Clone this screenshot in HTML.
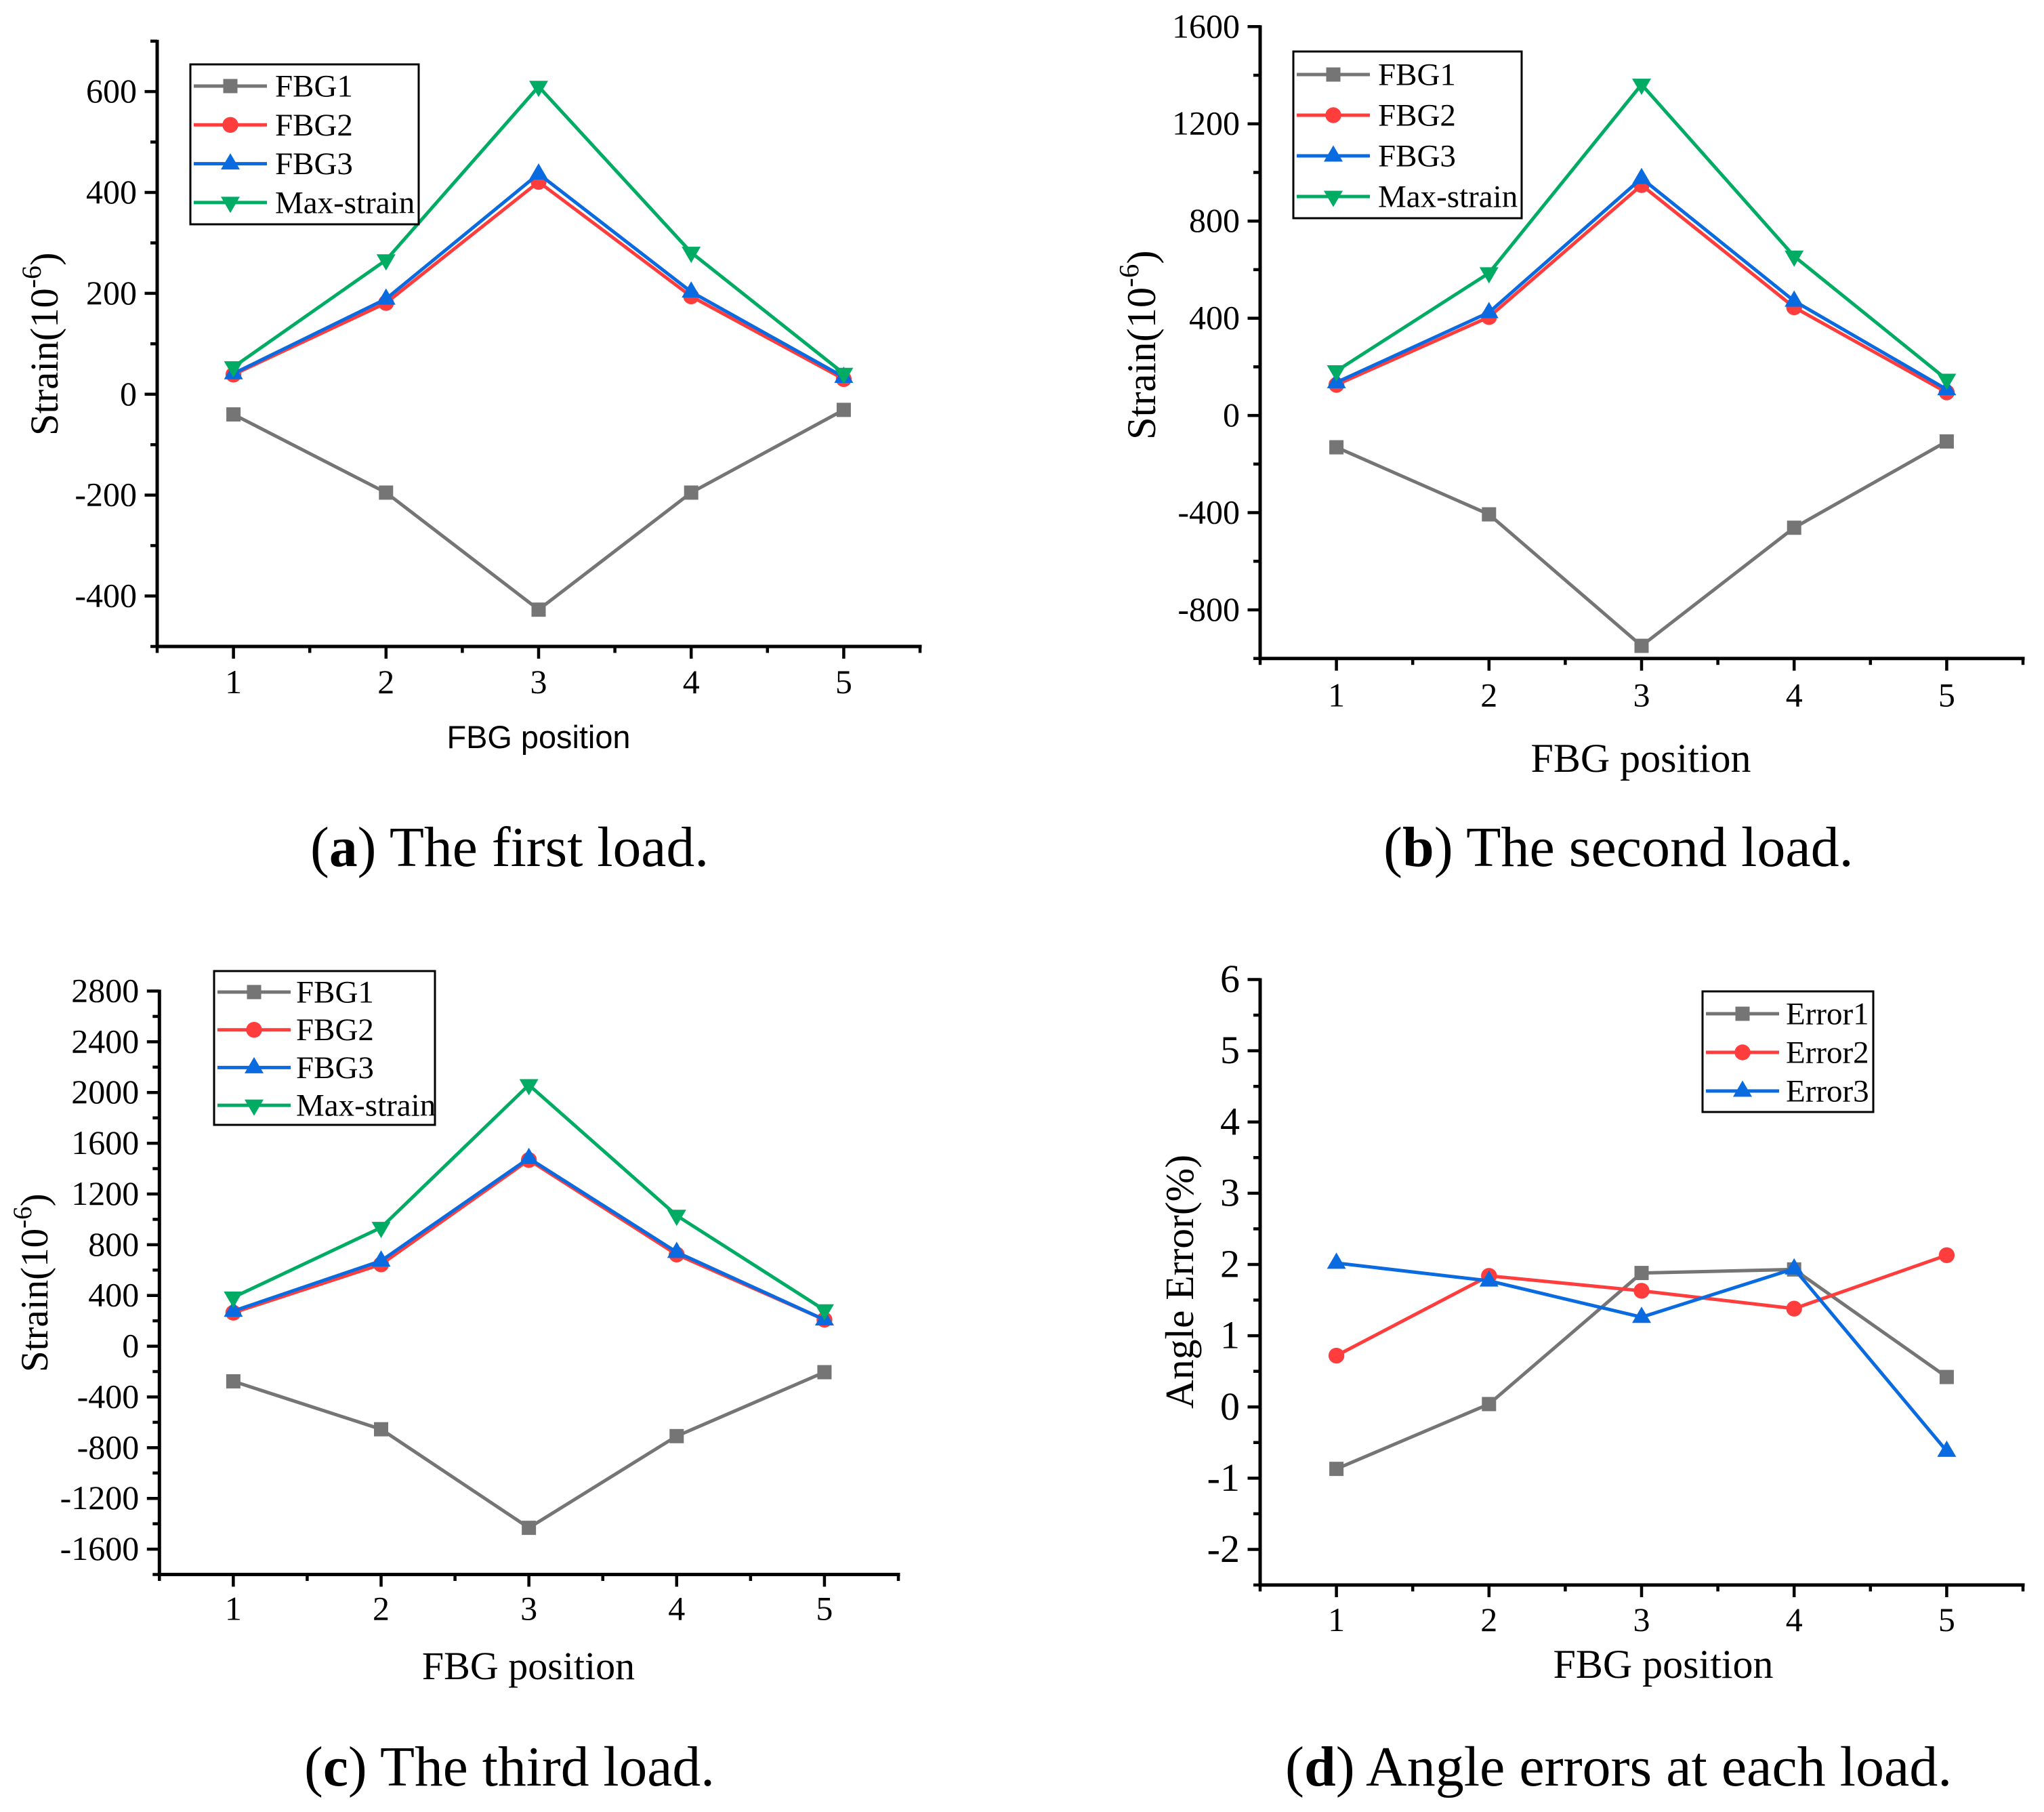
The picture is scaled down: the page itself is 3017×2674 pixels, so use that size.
<!DOCTYPE html>
<html>
<head>
<meta charset="utf-8">
<title>FBG strain charts</title>
<style>
html,body{margin:0;padding:0;background:#fff;}
svg{display:block;}
text{font-family:"Liberation Serif",serif;fill:#000;}
</style>
</head>
<body>
<svg id="figure" xmlns="http://www.w3.org/2000/svg" width="3017" height="2674" viewBox="0 0 3017 2674">
<rect x="0" y="0" width="3017" height="2674" fill="#fff"/>
<g id="titles">
<text x="795" y="1104" font-size="46.9" text-anchor="middle" style="font-family:'Liberation Sans',sans-serif">FBG position</text>
<text x="2422" y="1139" font-size="60" text-anchor="middle">FBG position</text>
<text x="780" y="2478" font-size="58" text-anchor="middle">FBG position</text>
<text x="2455" y="2476" font-size="60" text-anchor="middle">FBG position</text>
<text transform="translate(85,643) rotate(-90)" font-size="58.5">Strain(10<tspan font-size="40" dy="-25">-6</tspan><tspan dy="25">)</tspan></text>
<text transform="translate(1705,649) rotate(-90)" font-size="60.5">Strain(10<tspan font-size="41" dy="-25">-6</tspan><tspan dy="25">)</tspan></text>
<text transform="translate(70,2025) rotate(-90)" font-size="57">Strain(10<tspan font-size="39" dy="-24">-6</tspan><tspan dy="24">)</tspan></text>
<text transform="translate(1761,2079) rotate(-90)" font-size="59.5">Angle Error(%)</text>
<text x="458" y="1278" font-size="83.6">(<tspan font-weight="bold">a</tspan>) The first load.</text>
<text x="2042" y="1278" font-size="84">(<tspan font-weight="bold">b</tspan>) The second load.</text>
<text x="449" y="2635" font-size="83.5">(<tspan font-weight="bold">c</tspan>) The third load.</text>
<text x="1897" y="2635" font-size="84">(<tspan font-weight="bold">d</tspan>) Angle errors at each load.</text>
</g>
</svg>
<script>
const categories = [1, 2, 3, 4, 5];
const strainNames = ['FBG1', 'FBG2', 'FBG3', 'Max-strain'];
const errorNames = ['Error1', 'Error2', 'Error3'];

const a_fbg1 = [-40, -195, -427, -195, -31];
const a_fbg2 = [39, 181, 421, 194, 30];
const a_fbg3 = [41, 189, 437, 203, 34];
const a_max = [54, 266, 610, 281, 41];
const a_yTicks = [-400, -200, 0, 200, 400, 600];

const b_fbg1 = [-131, -407, -948, -462, -107];
const b_fbg2 = [126, 405, 948, 445, 95];
const b_fbg3 = [136, 424, 976, 471, 107];
const b_max = [183, 586, 1362, 655, 148];
const b_yTicks = [-800, -400, 0, 400, 800, 1200, 1600];

const c_fbg1 = [-277, -655, -1432, -709, -205];
const c_fbg2 = [264, 645, 1468, 723, 209];
const c_fbg3 = [277, 673, 1482, 741, 209];
const c_max = [385, 935, 2060, 1030, 285];
const c_yTicks = [-1600, -1200, -800, -400, 0, 400, 800, 1200, 1600, 2000, 2400, 2800];

const d_error1 = [-0.87, 0.04, 1.88, 1.93, 0.42];
const d_error2 = [0.72, 1.84, 1.63, 1.38, 2.13];
const d_error3 = [2.02, 1.77, 1.26, 1.94, -0.62];
const d_yTicks = [-2, -1, 0, 1, 2, 3, 4, 5, 6];

const colors = ['#757575', '#ff3d3d', '#0a6ae0', '#00ac64'];
const shapes = ['square', 'circle', 'up', 'down'];
const NS = 'http://www.w3.org/2000/svg';
const svg = document.getElementById('figure');

function make(tag, parent) {
  const el = document.createElementNS(NS, tag);
  parent.appendChild(el);
  return el;
}

function drawMarker(parent, shape, x, y, color) {
  let m;
  if (shape === 'square') {
    m = make('rect', parent);
    m.setAttribute('x', x - 10.5);
    m.setAttribute('y', y - 10.5);
    m.setAttribute('width', 21);
    m.setAttribute('height', 21);
  } else if (shape === 'circle') {
    m = make('circle', parent);
    m.setAttribute('cx', x);
    m.setAttribute('cy', y);
    m.setAttribute('r', 11.7);
  } else if (shape === 'up') {
    m = make('polygon', parent);
    m.setAttribute('points', (x) + ',' + (y - 15.5) + ' ' + (x + 14) + ',' + (y + 8.5) + ' ' + (x - 14) + ',' + (y + 8.5));
  } else {
    m = make('polygon', parent);
    m.setAttribute('points', (x) + ',' + (y + 15.5) + ' ' + (x + 14) + ',' + (y - 8.5) + ' ' + (x - 14) + ',' + (y - 8.5));
  }
  m.setAttribute('fill', color);
  
  
}

function drawLine(parent, x1, y1, x2, y2, color, width) {
  const l = make('line', parent);
  l.setAttribute('x1', x1);
  l.setAttribute('y1', y1);
  l.setAttribute('x2', x2);
  l.setAttribute('y2', y2);
  l.setAttribute('stroke', color);
  l.setAttribute('stroke-width', width);
  
  
}

function drawLabel(parent, str, x, y, size, anchor) {
  const t = make('text', parent);
  t.setAttribute('x', x);
  t.setAttribute('y', y);
  t.setAttribute('font-size', size);
  t.setAttribute('text-anchor', anchor);
  
  
  t.textContent = str;
}

function drawPanel(p) {
  const g = make('g', svg);
  
  

  const sx = function (v) { return p.xL + (v - 0.5) / 5 * (p.xR - p.xL); };
  const sy = function (v) { return p.yB - (v - p.yMin) / (p.yMax - p.yMin) * (p.yB - p.yT); };

  drawLine(g, p.xL, p.yT - 2, p.xL, p.yB + 2.5, '#000', 5);
  drawLine(g, p.xL - 2, p.yB, p.xR + 2.5, p.yB, '#000', 5);

  const minorCount = Math.round((p.yMax - p.yMin) / p.yMinor);
  for (let i = 0; i <= minorCount; i++) {
    const v = p.yMin + i * p.yMinor;
    if (p.yTicks.indexOf(v) < 0) {
      drawLine(g, p.xL - 10, sy(v), p.xL, sy(v), '#000', 4.5);
    }
  }
  p.yTicks.forEach(function (v) {
    drawLine(g, p.xL - 18.5, sy(v), p.xL, sy(v), '#000', 4.5);
    drawLabel(g, String(v), p.xL - 30, sy(v) + p.yFont * 0.32, p.yFont, 'end');
  });
  categories.forEach(function (c) {
    drawLine(g, sx(c), p.yB, sx(c), p.yB + 18, '#000', 4.5);
    drawLabel(g, String(c), sx(c), p.yB + p.xLabelGap, 50, 'middle');
    drawLine(g, sx(c - 0.5), p.yB, sx(c - 0.5), p.yB + 9.5, '#000', 4.5);
  });
  drawLine(g, sx(5.5), p.yB, sx(5.5), p.yB + 9.5, '#000', 4.5);

  p.series.forEach(function (values, i) {
    const path = make('polyline', g);
    path.setAttribute('points', values.map(function (v, k) { return sx(categories[k]) + ',' + sy(v); }).join(' '));
    path.setAttribute('fill', 'none');
    path.setAttribute('stroke', colors[i]);
    path.setAttribute('stroke-width', 5);
    
    
    values.forEach(function (v, k) {
      drawMarker(g, shapes[i], sx(categories[k]), sy(v), colors[i]);
    });
  });

  const lg = make('g', g);
  
  
  const box = make('rect', lg);
  box.setAttribute('x', p.lg.x);
  box.setAttribute('y', p.lg.y);
  box.setAttribute('width', p.lg.w);
  box.setAttribute('height', p.lg.h);
  box.setAttribute('fill', '#fff');
  box.setAttribute('stroke', '#000');
  box.setAttribute('stroke-width', 3);
  
  
  p.names.forEach(function (name, i) {
    const ry = p.lg.row0 + i * p.lg.rowGap;
    const x0 = p.lg.x + 5;
    drawLine(lg, x0, ry, x0 + 108, ry, colors[i], 5);
    drawMarker(lg, shapes[i], x0 + 54, ry, colors[i]);
    drawLabel(lg, name, x0 + p.lg.textX, ry + 15.5, 47, 'start');
  });
}

drawPanel({
  xL: 232, xR: 1358, yT: 60.7, yB: 954, yMin: -500, yMax: 700, yMinor: 100,
  yTicks: a_yTicks, yFont: 50, xLabelGap: 69,
  series: [a_fbg1, a_fbg2, a_fbg3, a_max], names: strainNames,
  lg: { x: 281, y: 95, w: 337, h: 236, row0: 127, rowGap: 57.3, textX: 120 }
});
drawPanel({
  xL: 1860, xR: 2986, yT: 39.3, yB: 971.7, yMin: -1000, yMax: 1600, yMinor: 200,
  yTicks: b_yTicks, yFont: 50, xLabelGap: 71,
  series: [b_fbg1, b_fbg2, b_fbg3, b_max], names: strainNames,
  lg: { x: 1909, y: 76, w: 337, h: 246, row0: 110, rowGap: 60, textX: 120 }
});
drawPanel({
  xL: 235.3, xR: 1326, yT: 1462.5, yB: 2323.5, yMin: -1800, yMax: 2800, yMinor: 200,
  yTicks: c_yTicks, yFont: 50, xLabelGap: 67,
  series: [c_fbg1, c_fbg2, c_fbg3, c_max], names: strainNames,
  lg: { x: 316, y: 1433, w: 326, h: 227, row0: 1464, rowGap: 55.7, textX: 116 }
});
drawPanel({
  xL: 1860, xR: 2986, yT: 1445.5, yB: 2339, yMin: -2.5, yMax: 6, yMinor: 0.5,
  yTicks: d_yTicks, yFont: 58, xLabelGap: 68,
  series: [d_error1, d_error2, d_error3], names: errorNames,
  lg: { x: 2513, y: 1463, w: 252, h: 178, row0: 1496, rowGap: 57, textX: 118 }
});
</script>
</body>
</html>
